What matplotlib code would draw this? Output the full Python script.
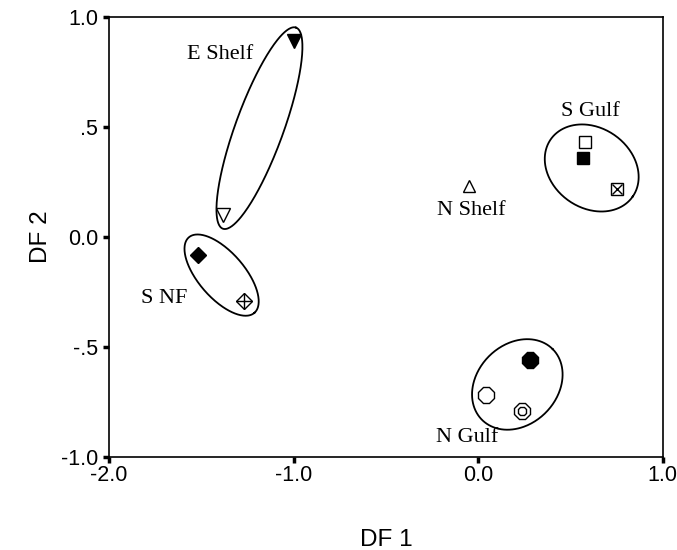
import numpy as np
import matplotlib
matplotlib.use("Agg")
import matplotlib.pyplot as plt

# ---- data ----
group_names = ["E Shelf", "S NF", "N Shelf", "S Gulf", "N Gulf"]
label_x = [-1.40, -1.70, -0.035, 0.61, -0.06]
label_y = [0.83, -0.28, 0.12, 0.57, -0.91]

pt_x = [-1.00, -1.38, -1.52, -1.27, -0.05, 0.58, 0.57, 0.75, 0.28, 0.04, 0.24]
pt_y = [0.89, 0.10, -0.08, -0.29, 0.23, 0.43, 0.36, 0.22, -0.56, -0.72, -0.79]
pt_style = ["vfill", "vopen", "Dfill", "Dcross", "^open", "sopen", "sfill", "sx",
            "8fill", "8open", "8ring"]

# ellipses: center (data), semi-axes (px), angle (deg)
ell_cx = [-1.185, -1.39, 0.615, 0.212]
ell_cy = [0.495, -0.173, 0.314, -0.670]
ell_a = [107, 50, 50, 50]
ell_b = [24, 23, 40, 40]
ell_ang = [70, -49, -35, 45]

xticks = [-2.0, -1.0, 0.0, 1.0]
xtick_labels = ["-2.0", "-1.0", "0.0", "1.0"]
yticks = [-1.0, -0.5, 0.0, 0.5, 1.0]
ytick_labels = ["-1.0", "-.5", "0.0", ".5", "1.0"]

DPI = 100
fig = plt.figure(figsize=(6.77, 5.5), dpi=DPI)
ax = fig.add_axes([0.161, 0.169, 0.818, 0.800])
ax.set_xlim(-2.0, 1.0)
ax.set_ylim(-1.0, 1.0)

for s in ax.spines.values():
    s.set_linewidth(1.2)
    s.set_color("black")

ax.set_xticks(xticks)
ax.set_xticklabels(xtick_labels)
ax.set_yticks(yticks)
ax.set_yticklabels(ytick_labels)
ax.tick_params(direction="out", length=4, width=2.5, labelsize=15.5)
ax.tick_params(axis="x", pad=2)
ax.tick_params(axis="y", pad=4)
for lab in ax.get_xticklabels() + ax.get_yticklabels():
    lab.set_family("Liberation Sans")

ax.set_xlabel("DF 1", fontsize=17.5, family="Liberation Sans", labelpad=31)
ax.set_ylabel("DF 2", fontsize=17.5, family="Liberation Sans", labelpad=6)

# pixel scales
bbox = ax.get_position()
W, H = fig.get_size_inches() * DPI
sx = bbox.width * W / 3.0
sy = bbox.height * H / 2.0

t = np.linspace(0, 2 * np.pi, 300)
for cx, cy, a, b, ang in zip(ell_cx, ell_cy, ell_a, ell_b, ell_ang):
    ph = np.deg2rad(ang)
    dx = a * np.cos(t) * np.cos(ph) - b * np.sin(t) * np.sin(ph)
    dy = a * np.cos(t) * np.sin(ph) + b * np.sin(t) * np.cos(ph)
    ax.plot(cx + dx / sx, cy + dy / sy, color="black", lw=1.3)

k = dict(color="black", linestyle="none")
for x, y, st in zip(pt_x, pt_y, pt_style):
    if st == "vfill":
        ax.plot(x, y, marker="v", ms=10.5, mfc="black", mec="black", **k)
    elif st == "vopen":
        ax.plot(x, y, marker="v", ms=10.5, mfc="white", mec="black", mew=1.0, **k)
    elif st == "Dfill":
        ax.plot(x, y, marker="D", ms=8.5, mfc="black", mec="black", **k)
    elif st == "Dcross":
        ax.plot(x, y, marker="D", ms=8.5, mfc="white", mec="black", mew=1.0, **k)
        ax.plot(x, y, marker="+", ms=11, mec="black", mew=1.0, **k)
    elif st == "^open":
        ax.plot(x, y, marker="^", ms=9, mfc="white", mec="black", mew=1.0, **k)
    elif st == "sopen":
        ax.plot(x, y, marker="s", ms=8.5, mfc="white", mec="black", mew=1.0, **k)
    elif st == "sfill":
        ax.plot(x, y, marker="s", ms=8.5, mfc="black", mec="black", **k)
    elif st == "sx":
        ax.plot(x, y, marker="s", ms=8.5, mfc="white", mec="black", mew=1.0, **k)
        ax.plot(x, y, marker="x", ms=7, mec="black", mew=1.0, **k)
    elif st == "8fill":
        ax.plot(x, y, marker="8", ms=12, mfc="black", mec="black", **k)
    elif st == "8open":
        ax.plot(x, y, marker="8", ms=12, mfc="white", mec="black", mew=1.0, **k)
    elif st == "8ring":
        ax.plot(x, y, marker="8", ms=12, mfc="white", mec="black", mew=1.0, **k)
        ax.plot(x, y, marker="8", ms=6.5, mfc="white", mec="black", mew=1.0, **k)

for name, x, y in zip(group_names, label_x, label_y):
    ax.text(x, y, name, fontsize=16, family="Liberation Serif", ha="center", va="center")

fig.savefig("out.png", dpi=DPI)
